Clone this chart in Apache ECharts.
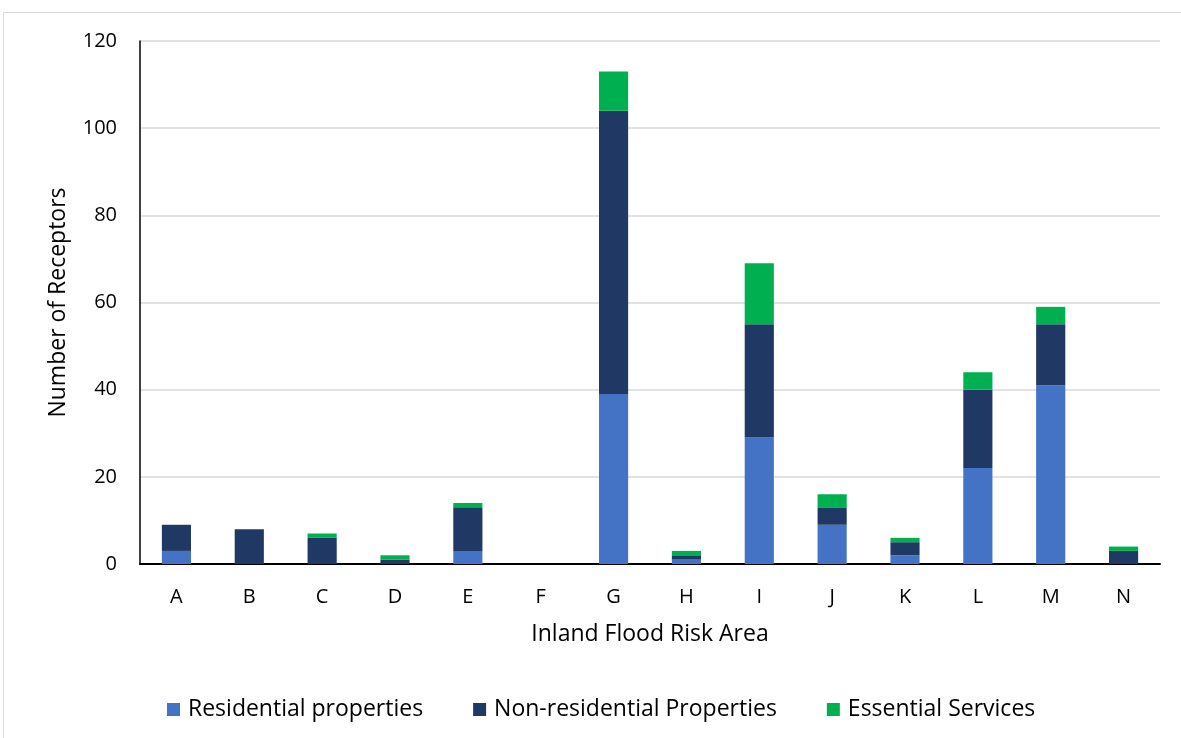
<!DOCTYPE html>
<html>
<head>
<meta charset="utf-8">
<script src="https://cdn.jsdelivr.net/npm/echarts@6/dist/echarts.min.js"></script>
<style>
html,body{margin:0;padding:0;background:#fff;}
#chart{width:1181px;height:738px;}
</style>
</head>
<body>
<div id="chart"></div>
<script>
const categories = ['A','B','C','D','E','F','G','H','I','J','K','L','M','N'];
const residential = [3,0,0,0,3,0,39,1,29,9,2,22,41,0];
const nonResidential = [6,8,6,1,10,0,65,1,26,4,3,18,14,3];
const essential = [0,0,1,1,1,0,9,1,14,3,1,4,4,1];
const yTicks = [0,20,40,60,80,100,120];

const FONT = '"Open Sans", sans-serif';
const chart = echarts.init(document.getElementById('chart'));
const mk = (name, data, color) => ({
  name, type: 'bar', stack: 'total', data, barWidth: '40%',
  itemStyle: { color }, emphasis: { disabled: true }
});
chart.setOption({
  animation: false,
  textStyle: { fontFamily: FONT },
  graphic: [{
    type: 'rect', silent: true,
    shape: { x: 3.5, y: 12.5, width: 1190, height: 740 },
    style: { fill: 'none', stroke: '#d9d9d9', lineWidth: 1 }
  }],
  grid: { left: 140, right: 21, top: 41, bottom: 174 },
  legend: {
    top: 693, left: 162, itemWidth: 13, itemHeight: 13, itemGap: 50,
    icon: 'rect',
    textStyle: { fontSize: 23, color: '#000', fontFamily: FONT, padding: [0, 0, 0, 3] },
    data: ['Residential properties', 'Non-residential Properties', 'Essential Services']
  },
  xAxis: {
    type: 'category', data: categories,
    name: 'Inland Flood Risk Area', nameLocation: 'middle', nameGap: 59,
    nameTextStyle: { fontSize: 23, color: '#000', fontFamily: FONT },
    axisLine: { lineStyle: { color: '#000', width: 2 } },
    axisTick: { show: false },
    axisLabel: { fontSize: 20, color: '#000', margin: 23, fontFamily: FONT }
  },
  yAxis: {
    type: 'value', min: 0, max: 120, interval: 20,
    name: 'Number of Receptors', nameLocation: 'middle', nameGap: 70,
    nameTextStyle: { fontSize: 23, color: '#000', fontFamily: FONT },
    axisLine: { show: true, lineStyle: { color: '#000', width: 1.5 } },
    axisTick: { show: false },
    axisLabel: { fontSize: 20, color: '#000', margin: 23, fontFamily: FONT,
      formatter: v => yTicks.includes(v) ? String(v) : '' },
    splitLine: { lineStyle: { color: '#d9d9d9', width: 1.5 } }
  },
  series: [
    mk('Residential properties', residential, '#4472c4'),
    mk('Non-residential Properties', nonResidential, '#203864'),
    mk('Essential Services', essential, '#00b050')
  ]
});
</script>
</body>
</html>
